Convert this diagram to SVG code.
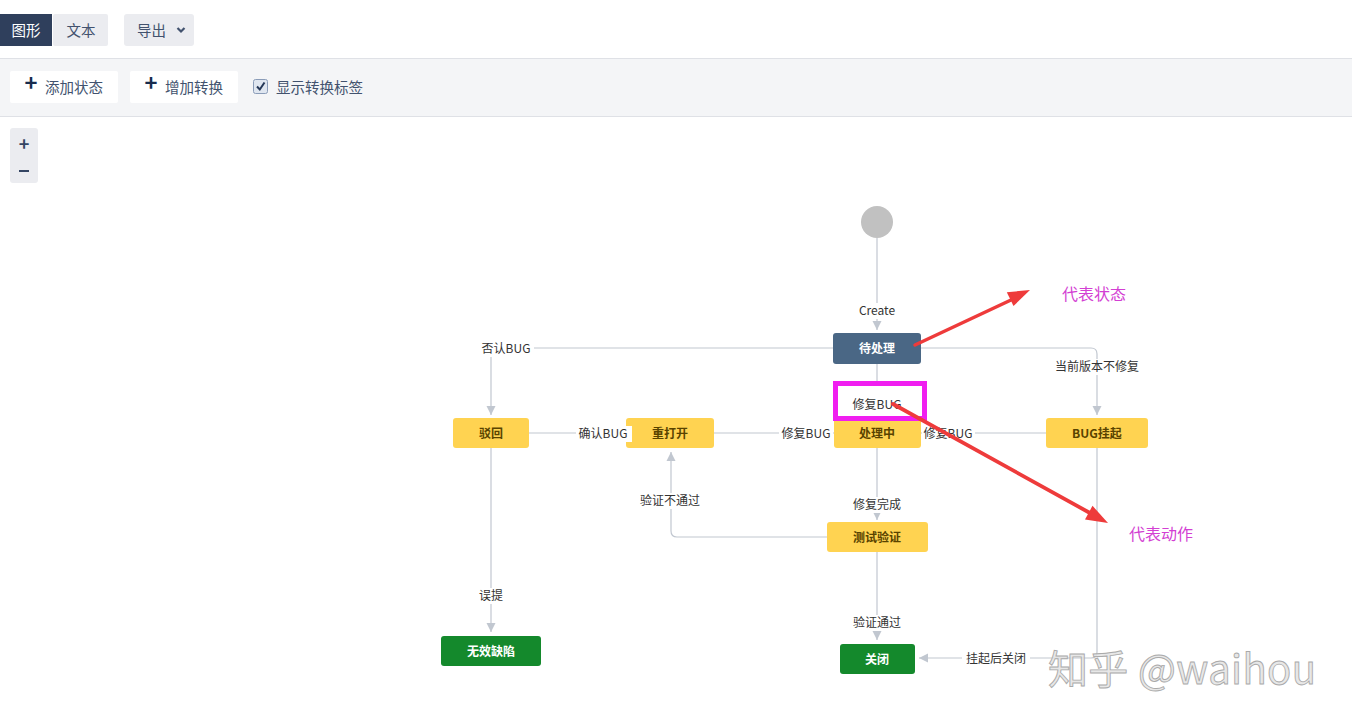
<svg xmlns="http://www.w3.org/2000/svg" width="1352" height="724" viewBox="0 0 1352 724">
<style>
.ui{font-family:"Noto Sans CJK SC","Liberation Sans",sans-serif;font-size:14.5px;fill:#42526e}
.lbl{font-family:"Noto Sans CJK SC","Liberation Sans",sans-serif;font-size:12px;fill:#333;text-anchor:middle}
.nt{font-family:"Noto Sans CJK SC","Liberation Sans",sans-serif;font-size:12px;font-weight:bold;text-anchor:middle}
.yel rect{fill:#ffd351}
.yel text{fill:#594300}
.grn rect{fill:#14892c}
.grn text{fill:#fff}
.blu rect{fill:#4a6785}
.blu text{fill:#fff}
.edge{fill:none;stroke:#c1c7d0;stroke-width:1.2}
.lb{fill:#fff}
.ann{font-family:"Noto Sans CJK SC","Liberation Sans",sans-serif;font-size:16px;fill:#d33fd3}
</style>
<defs>
<marker id="ah" markerUnits="userSpaceOnUse" markerWidth="10" markerHeight="10" refX="9" refY="5" orient="auto" viewBox="0 0 10 10">
<path d="M0,0.5 L9,5 L0,9.5 z" fill="#c1c7d0"/>
</marker>
</defs>
<rect width="1352" height="724" fill="#fff"/>
<!-- header -->
<g id="header">
<rect x="0" y="14" width="52" height="32" fill="#2f3f5c"/>
<text x="26" y="36" class="ui" style="fill:#fff" text-anchor="middle">图形</text>
<rect x="53" y="14" width="55" height="32" rx="2" fill="#ebecf0"/>
<text x="81" y="36" class="ui" text-anchor="middle">文本</text>
<rect x="124" y="14" width="70" height="32" rx="3" fill="#ebecf0"/>
<text x="137" y="36" class="ui">导出</text>
<path d="M177.5,28 L181,31.5 L184.5,28" fill="none" stroke="#42526e" stroke-width="2.2"/>
<rect x="0" y="58" width="1352" height="58" fill="#f4f5f7"/>
<line x1="0" y1="58.5" x2="1352" y2="58.5" stroke="#dfe1e6"/>
<line x1="0" y1="116.5" x2="1352" y2="116.5" stroke="#dfe1e6"/>
<rect x="10" y="71" width="108" height="32" rx="2" fill="#fff"/>
<text x="31" y="91" class="ui" style="font-size:22px;fill:#172b4d;font-weight:bold" text-anchor="middle">+</text>
<text x="45" y="93" class="ui">添加状态</text>
<rect x="130" y="71" width="108" height="32" rx="2" fill="#fff"/>
<text x="151" y="91" class="ui" style="font-size:22px;fill:#172b4d;font-weight:bold" text-anchor="middle">+</text>
<text x="165" y="93" class="ui">增加转换</text>
<rect x="253.5" y="79.5" width="14" height="14" rx="2" fill="#dfe6f0" stroke="#8a9cb8"/>
<path d="M257,86.5 L259.8,89.5 L264.5,82.5" fill="none" stroke="#253858" stroke-width="2"/>
<text x="276" y="93" class="ui">显示转换标签</text>
<rect x="10" y="128" width="28" height="55" rx="3" fill="#ebecf0"/>
<text x="24" y="151" class="ui" style="font-size:18px;fill:#344563;font-weight:bold" text-anchor="middle">+</text>
<line x1="19" y1="171" x2="29" y2="171" stroke="#344563" stroke-width="2"/>
</g>
<!-- nodes -->
<g id="start"><circle cx="877" cy="222" r="16" fill="#c1c1c1"/></g>
<g id="n-pending" class="blu"><rect x="833" y="333" width="88" height="31" rx="3"/><text x="877" y="353" class="nt">待处理</text></g>
<g id="n-reject" class="yel"><rect x="453" y="418" width="76" height="30" rx="3"/><text x="491" y="438" class="nt">驳回</text></g>
<g id="n-reopen" class="yel"><rect x="626" y="418" width="88" height="30" rx="3"/><text x="670" y="438" class="nt">重打开</text></g>
<g id="n-doing" class="yel"><rect x="834" y="418" width="87" height="30" rx="3"/><text x="877" y="438" class="nt">处理中</text></g>
<g id="n-hang" class="yel"><rect x="1046" y="418" width="102" height="30" rx="3"/><text x="1097" y="438" class="nt">BUG挂起</text></g>
<g id="n-test" class="yel"><rect x="827" y="522" width="101" height="30" rx="3"/><text x="877" y="542" class="nt">测试验证</text></g>
<g id="n-invalid" class="grn"><rect x="441" y="636" width="100" height="30" rx="3"/><text x="491" y="656" class="nt">无效缺陷</text></g>
<g id="n-closed" class="grn"><rect x="840" y="644" width="75" height="30" rx="3"/><text x="877" y="664" class="nt">关闭</text></g>
<!-- connectors -->
<g id="connectors">
<path class="edge" d="M877,238 V330" marker-end="url(#ah)"/>
<path class="edge" d="M833,348 H491 V415" marker-end="url(#ah)"/>
<path class="edge" d="M529,433 H626"/>
<path class="edge" d="M714,433 H834"/>
<path class="edge" d="M877,364 V418"/>
<path class="edge" d="M1046,433 H921"/>
<path class="edge" d="M921,348 H1091 Q1097,348 1097,354 V415" marker-end="url(#ah)"/>
<path class="edge" d="M877,448 V520" marker-end="url(#ah)"/>
<path class="edge" d="M827,537 H677 Q671,537 671,531 V452" marker-end="url(#ah)"/>
<path class="edge" d="M877,552 V640" marker-end="url(#ah)"/>
<path class="edge" d="M1097,448 V652 Q1097,658 1091,658 H919" marker-end="url(#ah)"/>
<path class="edge" d="M491,448 V632" marker-end="url(#ah)"/>
<rect class="lb" x="856" y="303" width="42" height="16"/><text class="lbl" x="877" y="315">Create</text>
<rect class="lb" x="478" y="341" width="56" height="16"/><text class="lbl" x="506" y="353">否认BUG</text>
<rect class="lb" x="576" y="426" width="56" height="16"/><text class="lbl" x="603" y="438">确认BUG</text>
<rect class="lb" x="779" y="426" width="54" height="16"/><text class="lbl" x="806" y="438">修复BUG</text>
<rect class="lb" x="922" y="426" width="53" height="16"/><text class="lbl" x="948" y="438">修复BUG</text>
<rect class="lb" x="1052" y="359" width="90" height="16"/><text class="lbl" x="1097" y="371">当前版本不修复</text>
<rect class="lb" x="850" y="497" width="54" height="16"/><text class="lbl" x="877" y="509">修复完成</text>
<rect class="lb" x="637" y="493" width="66" height="16"/><text class="lbl" x="670" y="505">验证不通过</text>
<rect class="lb" x="850" y="615" width="54" height="16"/><text class="lbl" x="877" y="627">验证通过</text>
<rect class="lb" x="962" y="651" width="68" height="16"/><text class="lbl" x="996" y="663">挂起后关闭</text>
<rect class="lb" x="476" y="588" width="30" height="16"/><text class="lbl" x="491" y="600">误提</text>
<rect class="lb" x="838" y="386" width="84" height="30"/><text class="lbl" x="877" y="409">修复BUG</text>
</g>
<!-- annotations -->
<g id="annotations">
<rect x="835.5" y="383.5" width="89" height="35" fill="none" stroke="#f01ef0" stroke-width="5"/>
<path d="M915,345 L1011,300" stroke="#ee3b3b" stroke-width="3.5" stroke-linecap="round"/>
<polygon points="1030,290 1013.5,306 1006.8,292.2" fill="#ee3b3b"/>
<path d="M893,404 L1090,513" stroke="#ee3b3b" stroke-width="3.8" stroke-linecap="round"/>
<polygon points="1108,523 1085,519.5 1092.5,505.8" fill="#ee3b3b"/>
<text class="ann" x="1062" y="300">代表状态</text>
<text class="ann" x="1129" y="540">代表动作</text>
</g>
<g id="watermark">
<text x="1048" y="684" font-family="Noto Sans CJK SC, Liberation Sans, sans-serif" font-size="40" fill="#e4e4e4" stroke="#aaaaaa" stroke-width="0.9" fill-opacity="0.9" textLength="268">知乎 @waihou</text>
</g>
</svg>
